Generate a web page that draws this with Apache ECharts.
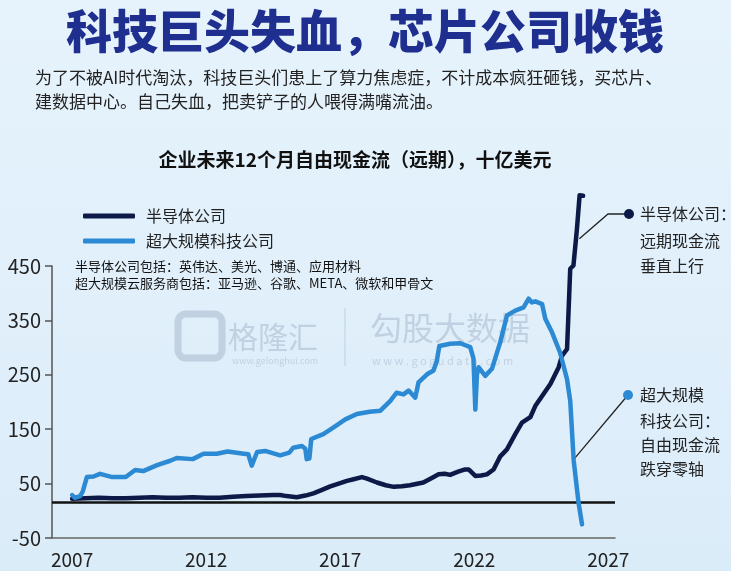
<!DOCTYPE html>
<html>
<head>
<meta charset="utf-8">
<script src="https://cdn.jsdelivr.net/npm/echarts@6/dist/echarts.min.js"></script>
<style>
html,body{margin:0;padding:0;background:#dfeefa;}
#c{width:731px;height:571px;}
</style>
</head>
<body>
<div id="c"></div>
<script>
// ---- data ----
const seriesNames = ['半导体公司', '超大规模科技公司'];
const semiYears = [2007.0,2007.5,2008.0,2008.5,2009.0,2009.5,2010.0,2010.5,2011.0,2011.5,2012.0,2012.5,2013.0,2013.5,2014.0,2014.5,2014.76,2015.0,2015.38,2015.7,2016.0,2016.3,2016.63,2017.0,2017.25,2017.5,2017.81,2018.0,2018.37,2018.7,2019.0,2019.3,2019.6,2020.1,2020.4,2020.67,2020.9,2021.1,2021.4,2021.66,2021.79,2022.04,2022.25,2022.47,2022.72,2022.97,2023.22,2023.53,2023.78,2024.09,2024.28,2024.59,2024.84,2025.15,2025.27,2025.46,2025.52,2025.58,2025.7,2025.83,2025.93,2026.06];
const semiValues = [22,23,24,23,23,24,25,24,24,25,24,24,26,27,28,29,29,27,25,28,32,38,45,51,55,58,62,59,52,47,44,45,47,52,60,67,68,66,72,76,76,64,65,67,76,100,113,141,162,172,193,215,233,264,285,297,370,445,451,518,580,579];
const hyperYears = [2007.0,2007.1,2007.3,2007.4,2007.55,2007.8,2008.04,2008.5,2009.0,2009.35,2009.65,2010.17,2010.66,2010.9,2011.5,2011.9,2012.4,2012.8,2013.4,2013.57,2013.7,2013.9,2014.2,2014.76,2015.1,2015.25,2015.57,2015.7,2015.75,2015.85,2015.92,2016.37,2016.74,2017.19,2017.62,2018.1,2018.5,2018.87,2019.1,2019.36,2019.55,2019.8,2019.92,2020.24,2020.48,2020.6,2020.7,2021.1,2021.48,2021.85,2021.97,2022.04,2022.1,2022.16,2022.41,2022.66,2022.97,2023.22,2023.53,2023.84,2024.03,2024.15,2024.28,2024.53,2024.65,2024.9,2025.2,2025.46,2025.58,2025.71,2025.89,2026.02];
const hyperValues = [29,24,27,36,62,63,68,62,62,75,73,84,92,97,95,105,105,109,105,104,83,108,110,102,107,116,119,114,95,96,132,141,153,168,178,182,184,202,217,214,221,208,236,251,258,275,303,307,308,301,280,186,250,264,248,261,310,359,368,374,390,383,385,380,353,328,291,242,202,92,15,-25];
const yearTicks = [2007, 2012, 2017, 2022, 2027];
const baselineValue = 16;

const chart = echarts.init(document.getElementById('c'), null, {renderer: 'canvas'});
const CJK = '"Noto Sans CJK SC", "Noto Sans", sans-serif';
const semiColor = '#0d1a48';
const hyperColor = '#2b8ad3';

const semiData = semiYears.map((y, i) => [y, semiValues[i]]);
const hyperData = hyperYears.map((y, i) => [y, hyperValues[i]]);

const option = {
  backgroundColor: {
    type: 'linear', x: 0, y: 0, x2: 0, y2: 1,
    colorStops: [{offset: 0, color: '#e6f3fc'}, {offset: 1, color: '#dbecf9'}]
  },
  animation: false,
  textStyle: {fontFamily: CJK},
  grid: {left: 52, right: 116, top: 266, bottom: 33, containLabel: false},
  legend: {
    orient: 'vertical', left: 78, top: 203, itemWidth: 52, itemHeight: 5, itemGap: 9,
    icon: 'roundRect',
    textStyle: {fontSize: 16, color: '#222', fontFamily: CJK, padding: [0, 0, 0, 6]},
    data: seriesNames
  },
  xAxis: {
    type: 'value', min: 2006.25, max: 2027.25,
    axisLine: {show: true, onZero: false, lineStyle: {color: '#666', width: 1.5}},
    axisTick: {show: false},
    splitLine: {show: false},
    axisLabel: {customValues: yearTicks, fontSize: 19, color: '#222', margin: 12, fontFamily: CJK, formatter: v => String(v)}
  },
  yAxis: {
    type: 'value', min: -50, max: 450, interval: 100,
    axisLine: {show: true, onZero: false, lineStyle: {color: '#555', width: 1.5}},
    axisTick: {show: true, length: 7, lineStyle: {color: '#555', width: 1.5}},
    splitLine: {show: false},
    axisLabel: {fontSize: 20, color: '#222', margin: 11, fontFamily: CJK}
  },
  series: [
    {
      name: seriesNames[0], type: 'line', data: semiData, showSymbol: false, clip: false, z: 3,
      itemStyle: {color: semiColor},
      lineStyle: {color: semiColor, width: 4.5, cap: 'round', join: 'round'},
      markLine: {
        silent: true, symbol: 'none', label: {show: false},
        lineStyle: {color: '#111', width: 2.5, type: 'solid'},
        data: [{yAxis: baselineValue}], z: 2
      }
    },
    {
      name: seriesNames[1], type: 'line', data: hyperData, showSymbol: false, clip: false, z: 4,
      itemStyle: {color: hyperColor},
      lineStyle: {color: hyperColor, width: 4.5, cap: 'round', join: 'round'}
    }
  ]
};
chart.setOption(option);

// annotations
const pSemi = chart.convertToPixel({gridIndex: 0}, [2025.92, 500]);
const pHyper = chart.convertToPixel({gridIndex: 0}, [2025.72, 95]);
const wm = 'rgba(130,150,175,0.33)';
const graphics = [
  {type: 'text', x: 365, y: 31, style: {text: '科技巨头失血，芯片公司收钱', fontSize: 46, fontWeight: 900, fill: '#1e2f8f', fontFamily: CJK, textAlign: 'center', textVerticalAlign: 'middle'}},
  {type: 'text', x: 35, y: 78, style: {text: '为了不被AI时代淘汰，科技巨头们患上了算力焦虑症，不计成本疯狂砸钱，买芯片、', fontSize: 17, fill: '#222', fontFamily: CJK, textVerticalAlign: 'middle'}},
  {type: 'text', x: 35, y: 102, style: {text: '建数据中心。自己失血，把卖铲子的人喂得满嘴流油。', fontSize: 17, fill: '#222', fontFamily: CJK, textVerticalAlign: 'middle'}},
  {type: 'text', x: 355, y: 160, style: {text: '企业未来12个月自由现金流（远期），十亿美元', fontSize: 19, fontWeight: 'bold', fill: '#111', fontFamily: CJK, textAlign: 'center', textVerticalAlign: 'middle'}},
  {type: 'text', x: 75, y: 266, style: {text: '半导体公司包括：英伟达、美光、博通、应用材料', fontSize: 13, fill: '#111', fontFamily: CJK, textVerticalAlign: 'middle'}},
  {type: 'text', x: 75, y: 283, style: {text: '超大规模云服务商包括：亚马逊、谷歌、META、微软和甲骨文', fontSize: 13, fill: '#111', fontFamily: CJK, textVerticalAlign: 'middle'}},
  // watermarks
  {type: 'rect', shape: {x: 178, y: 314, width: 44, height: 44, r: 8}, style: {fill: 'none', stroke: wm, lineWidth: 7}, silent: true},
  {type: 'text', x: 228, y: 337, style: {text: '格隆汇', fontSize: 30, fill: wm, fontFamily: CJK, textVerticalAlign: 'middle'}},
  {type: 'text', x: 232, y: 361, style: {text: 'www.gelonghui.com', fontSize: 9, fill: wm, fontFamily: CJK, textVerticalAlign: 'middle'}},
  {type: 'line', shape: {x1: 345, y1: 308, x2: 345, y2: 366}, style: {stroke: wm, lineWidth: 1}},
  {type: 'text', x: 370, y: 328, style: {text: '勾股大数据', fontSize: 32, fill: wm, fontFamily: CJK, textVerticalAlign: 'middle'}},
  {type: 'text', x: 372, y: 361, style: {text: 'w w w . g o g u d a t a . c o m', fontSize: 11, fill: wm, fontFamily: CJK, textVerticalAlign: 'middle'}},
  // semis annotation
  {type: 'polyline', shape: {points: [[pSemi[0], pSemi[1]], [608, 214], [629, 214]]}, style: {stroke: '#222', lineWidth: 1.3, fill: 'none'}},
  {type: 'circle', shape: {cx: 629, cy: 214, r: 5}, style: {fill: semiColor}},
  {type: 'text', x: 640, y: 214, style: {text: '半导体公司：', fontSize: 16, fill: '#222', fontFamily: CJK, textVerticalAlign: 'middle'}},
  {type: 'text', x: 640, y: 241, style: {text: '远期现金流', fontSize: 16, fill: '#222', fontFamily: CJK, textVerticalAlign: 'middle'}},
  {type: 'text', x: 640, y: 266, style: {text: '垂直上行', fontSize: 16, fill: '#222', fontFamily: CJK, textVerticalAlign: 'middle'}},
  // hyper annotation
  {type: 'line', shape: {x1: pHyper[0], y1: pHyper[1], x2: 628, y2: 395}, style: {stroke: '#222', lineWidth: 1.3}},
  {type: 'circle', shape: {cx: 628, cy: 395, r: 5}, style: {fill: hyperColor}},
  {type: 'text', x: 640, y: 395, style: {text: '超大规模', fontSize: 16, fill: '#222', fontFamily: CJK, textVerticalAlign: 'middle'}},
  {type: 'text', x: 640, y: 421, style: {text: '科技公司：', fontSize: 16, fill: '#222', fontFamily: CJK, textVerticalAlign: 'middle'}},
  {type: 'text', x: 640, y: 445, style: {text: '自由现金流', fontSize: 16, fill: '#222', fontFamily: CJK, textVerticalAlign: 'middle'}},
  {type: 'text', x: 640, y: 469, style: {text: '跌穿零轴', fontSize: 16, fill: '#222', fontFamily: CJK, textVerticalAlign: 'middle'}}
];
chart.setOption({graphic: {elements: graphics}});
</script>
</body>
</html>
